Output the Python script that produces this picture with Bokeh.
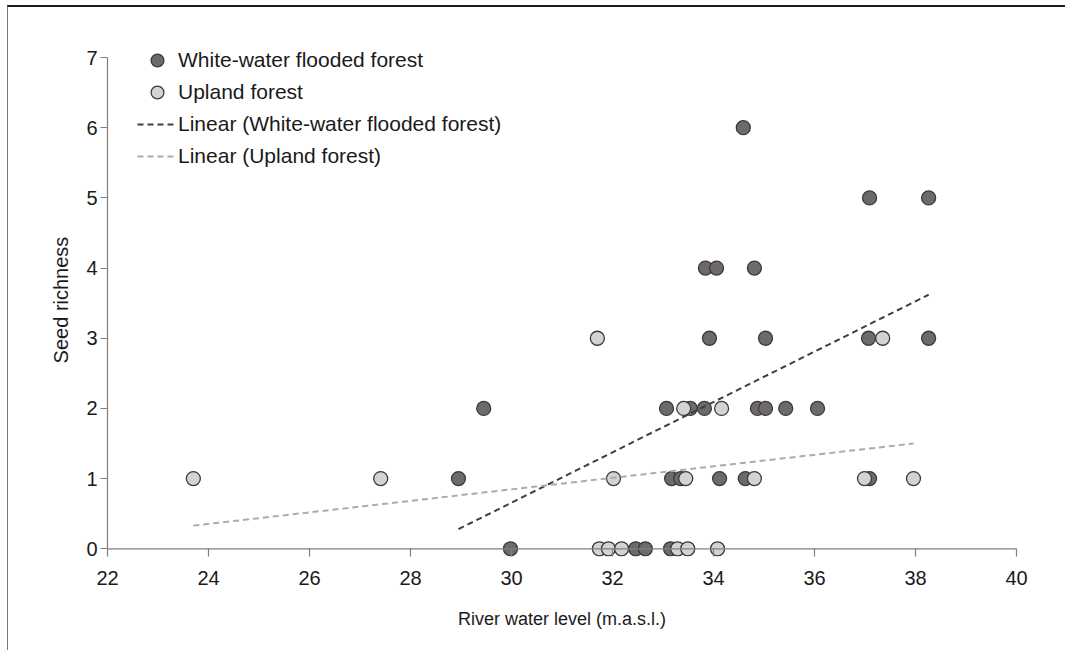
from bokeh.plotting import figure
from bokeh.models import Range1d, Legend, LegendItem, FixedTicker, Span
from bokeh.embed import file_html
from bokeh.resources import INLINE

# ---- data ----
x_ticks = [22, 24, 26, 28, 30, 32, 34, 36, 38, 40]
y_ticks = [0, 1, 2, 3, 4, 5, 6, 7]

white_x = [34.59, 37.09, 38.26, 33.84, 34.06, 34.81, 33.92, 35.03, 37.07, 38.26,
           29.45, 33.07, 33.54, 33.82, 34.87, 35.03, 35.43, 36.06,
           28.95, 33.17, 33.35, 34.12, 34.63, 37.09,
           29.98, 32.46, 32.65, 33.15]
white_y = [6, 5, 5, 4, 4, 4, 3, 3, 3, 3,
           2, 2, 2, 2, 2, 2, 2, 2,
           1, 1, 1, 1, 1, 1,
           0, 0, 0, 0]

upland_x = [31.70, 37.35, 33.41, 34.16,
            23.70, 27.41, 32.02, 33.45, 34.81, 36.99, 37.96,
            31.74, 31.92, 32.18, 33.29, 33.49, 34.08]
upland_y = [3, 3, 2, 2,
            1, 1, 1, 1, 1, 1, 1,
            0, 0, 0, 0, 0, 0]

white_trend_x = [28.95, 38.26]
white_trend_y = [0.28, 3.62]
upland_trend_x = [23.70, 37.96]
upland_trend_y = [0.33, 1.50]

FONT = "Liberation Sans"
AXIS_GREY = "#7f7f7f"

p = figure(width=1058, height=645, output_backend="svg", toolbar_location=None,
           x_range=Range1d(22, 40), y_range=Range1d(-0.11, 7.2),
           min_border_left=99, min_border_right=50, min_border_top=36, min_border_bottom=96)
p.styles = {"margin-left": "7px", "margin-top": "5px",
            "border-top": "2px solid #1a1a1a", "border-left": "1px solid #7a7a7a"}
p.background_fill_color = "white"
p.border_fill_color = "white"
p.outline_line_color = None
p.xgrid.visible = False
p.ygrid.visible = False

for ax in (p.xaxis[0], p.yaxis[0]):
    ax.axis_line_color = AXIS_GREY
    ax.axis_line_width = 1.2
    ax.major_tick_line_color = AXIS_GREY
    ax.major_tick_line_width = 1.2
    ax.minor_tick_line_color = None
    ax.major_label_text_font = FONT
    ax.major_label_text_font_size = "20px"
    ax.major_label_text_color = "#1a1a1a"
    ax.axis_label_text_font = FONT
    ax.axis_label_text_font_style = "normal"
    ax.axis_label_text_color = "#1a1a1a"

p.yaxis.major_tick_in = 0
p.yaxis.major_tick_out = 7
p.yaxis.bounds = (0, 7)
p.yaxis.major_label_standoff = 3
p.yaxis.axis_label_standoff = 11
p.yaxis.axis_label_text_font_size = "20px"

# bottom axis sits just below y = 0; its line is drawn at y = 0 with a Span
p.xaxis.axis_line_color = None
p.xaxis.major_tick_in = 8
p.xaxis.major_tick_out = 0
p.xaxis.major_label_standoff = 14
p.xaxis.axis_label_standoff = 21
p.xaxis.axis_label_text_font_size = "18px"

p.xaxis.ticker = FixedTicker(ticks=x_ticks)
p.yaxis.ticker = FixedTicker(ticks=y_ticks)
p.xaxis.axis_label = "River water level (m.a.s.l.)"
p.yaxis.axis_label = "Seed richness"

p.add_layout(Span(location=0, dimension="width", line_color=AXIS_GREY, line_width=1.2))

r_white = p.scatter(white_x, white_y, marker="circle", size=14,
                    fill_color="#6e6a6b", line_color="#3a3a3a", line_width=1.3)
r_up = p.scatter(upland_x, upland_y, marker="circle", size=14,
                 fill_color="#d3d3d3", line_color="#3a3a3a", line_width=1.3)
r_wt = p.line(white_trend_x, white_trend_y, line_color="#3f3f3f", line_width=2,
              line_dash="6 4")
r_ut = p.line(upland_trend_x, upland_trend_y, line_color="#ababab", line_width=2,
              line_dash="6 4")

legend = Legend(items=[
    LegendItem(label="White-water flooded forest", renderers=[r_white]),
    LegendItem(label="Upland forest", renderers=[r_up]),
    LegendItem(label="Linear (White-water flooded forest)", renderers=[r_wt]),
    LegendItem(label="Linear (Upland forest)", renderers=[r_ut]),
], location=(30, 384))
legend.label_text_font = FONT
legend.label_text_font_size = "21px"
legend.label_text_color = "#1a1a1a"
legend.glyph_width = 40
legend.glyph_height = 32
legend.label_height = 32
legend.spacing = 0
legend.padding = 0
legend.margin = 0
legend.label_standoff = 1
legend.border_line_color = None
legend.background_fill_alpha = 0
p.add_layout(legend)

open("out.html", "w").write(file_html(p, INLINE))
